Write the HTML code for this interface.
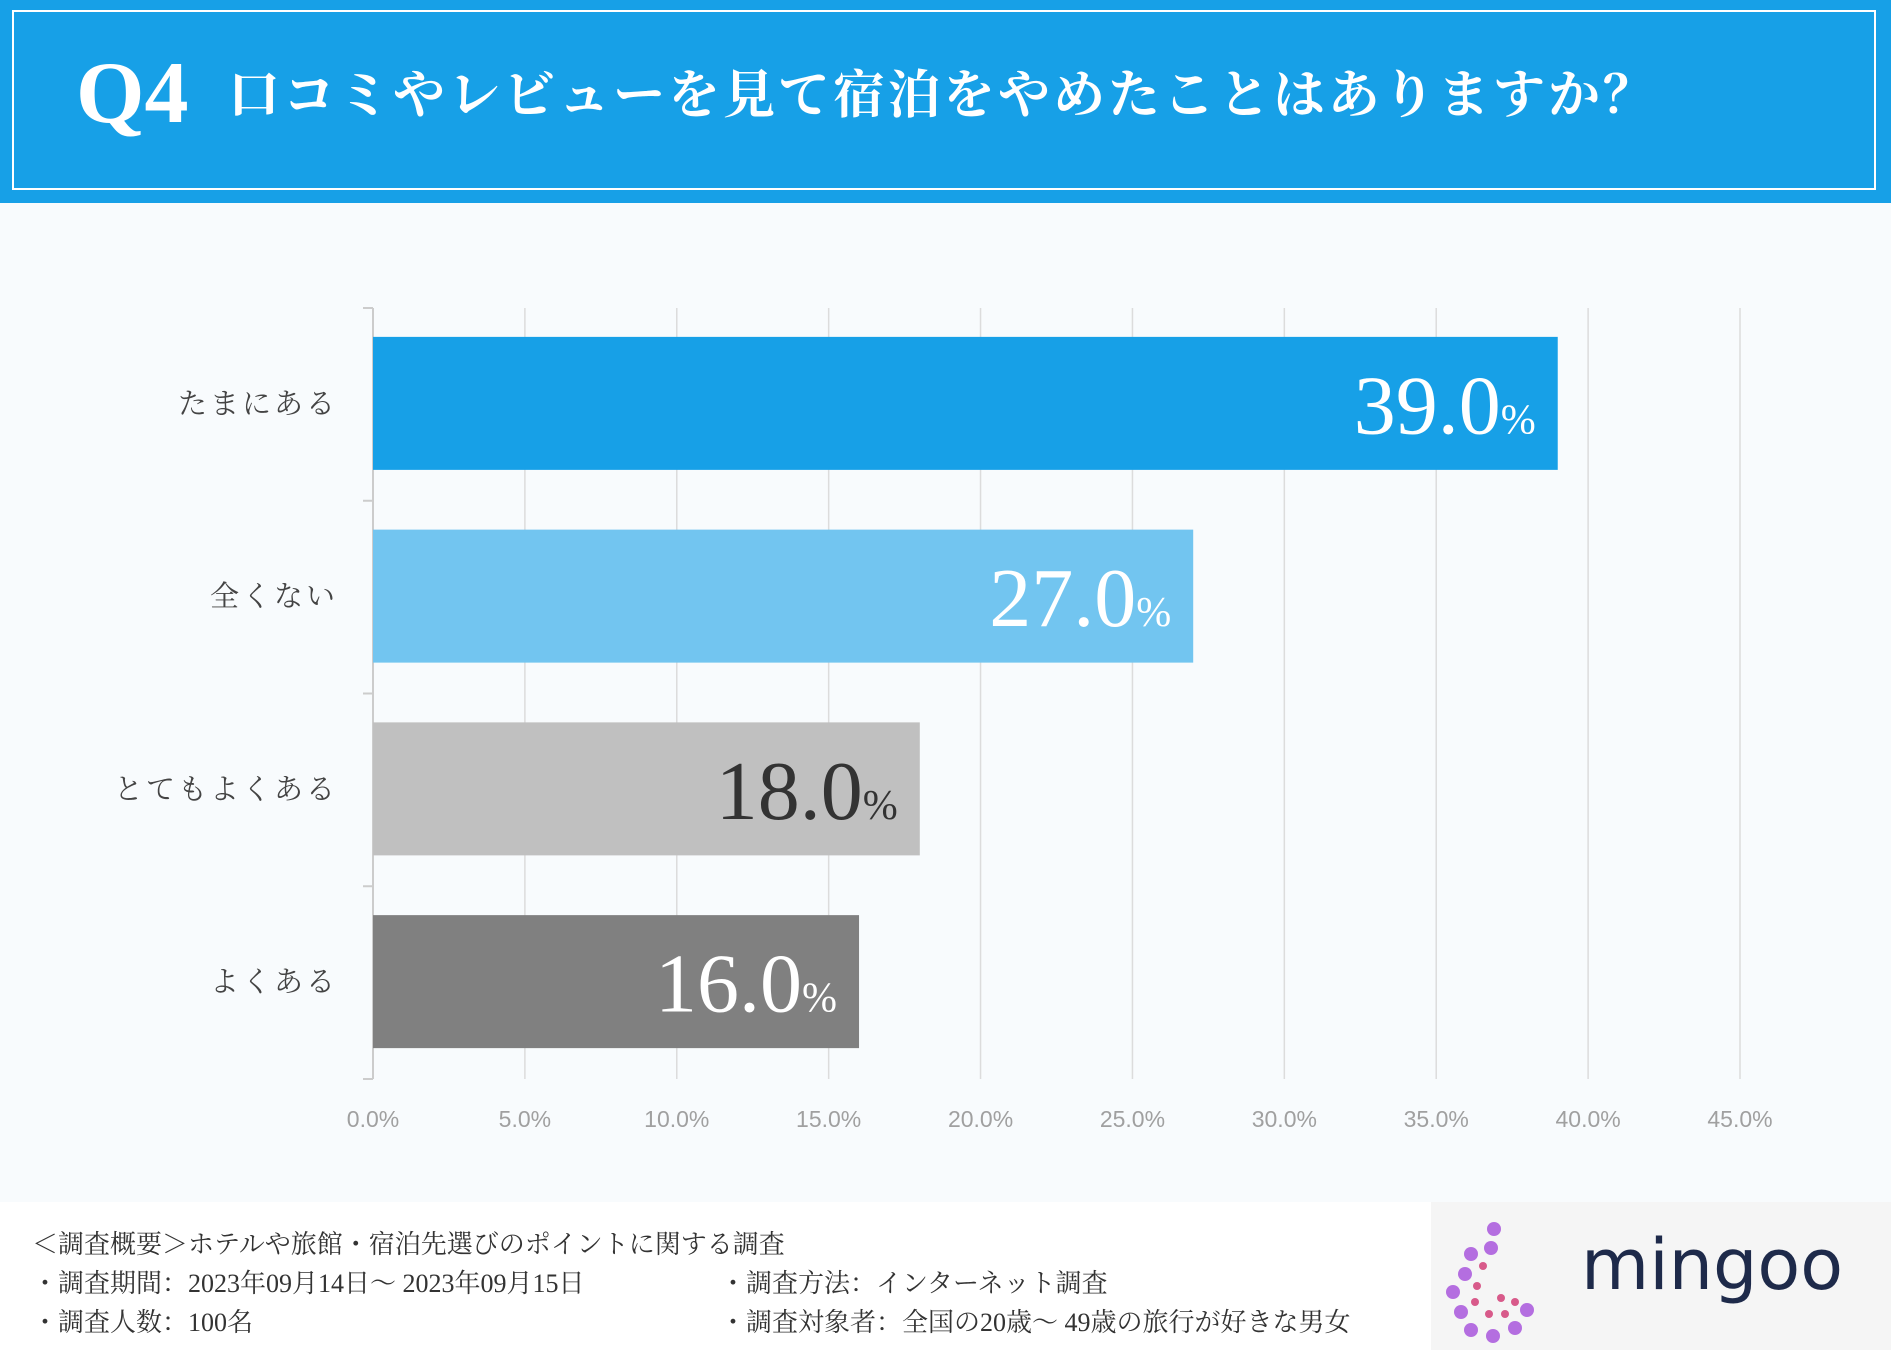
<!DOCTYPE html>
<html><head><meta charset="utf-8">
<style>
html,body{margin:0;padding:0}
body{width:1891px;height:1350px;background:#f8fbfd;position:relative;overflow:hidden;font-family:"Liberation Serif","Noto Serif CJK SC",serif}
.hdr{position:absolute;left:0;top:0;width:1891px;height:203px;background:#17a0e7}
.hdr .box{position:absolute;left:12px;top:10px;width:1864px;height:180px;border:2px solid #fff;box-sizing:border-box}
.q{position:absolute;left:76px;top:50px;color:#fff;font-family:"Liberation Serif",serif;font-size:88px;font-weight:bold;line-height:1}
.t{position:absolute;left:228px;top:68px;color:#fff;font-family:"Liberation Serif","Noto Serif CJK SC",serif;font-weight:bold;font-size:52px;letter-spacing:3px;line-height:1.1;white-space:nowrap}
.ftr{position:absolute;left:0;top:1202px;width:1891px;height:148px;background:#fff}
.ftr div{position:absolute;font-family:"Liberation Serif","Noto Serif CJK SC",serif;font-size:26px;color:#333;white-space:nowrap}
.logo{position:absolute;left:1431px;top:1202px;width:460px;height:148px;background:#f5f5f5}
</style></head><body>
<div class="hdr">
<div class="box"></div>
<div class="q">Q4</div>
<div class="t">口コミやレビューを見て宿泊をやめたことはありますか？</div>
</div>
<svg id="chart" width="1891" height="1202" style="position:absolute;left:0;top:0"></svg>
<div class="ftr">
<div style="left:32px;top:22px">＜調査概要＞ホテルや旅館・宿泊先選びのポイントに関する調査</div>
<div style="left:32px;top:61px">・調査期間：2023年09月14日～ 2023年09月15日</div>
<div style="left:32px;top:100px">・調査人数：100名</div>
<div style="left:720px;top:61px">・調査方法：インターネット調査</div>
<div style="left:720px;top:100px">・調査対象者：全国の20歳～ 49歳の旅行が好きな男女</div>
</div>
<div class="logo">
<svg width="120" height="148" style="position:absolute;left:0;top:0">
<g fill="#b46ee0"><circle cx="63" cy="27" r="7"/><circle cx="60" cy="46" r="7"/><circle cx="40" cy="52" r="7"/><circle cx="34" cy="72" r="7"/><circle cx="22" cy="90" r="7"/><circle cx="30" cy="110" r="7"/><circle cx="40" cy="128" r="7"/><circle cx="62" cy="134" r="7"/><circle cx="84" cy="126" r="7"/><circle cx="96" cy="108" r="7"/></g>
<g fill="#d85a8a"><circle cx="52" cy="64" r="4"/><circle cx="46" cy="84" r="4"/><circle cx="44" cy="100" r="4"/><circle cx="58" cy="112" r="4"/><circle cx="74" cy="112" r="4"/><circle cx="84" cy="100" r="4"/><circle cx="70" cy="96" r="4"/></g>
</svg>
<div style="position:absolute;left:150px;top:22px;font-family:'DejaVu Sans',sans-serif;font-size:70px;color:#1e2a4a">mingoo</div>
</div>
<script>
const categories=["たまにある","全くない","とてもよくある","よくある"];
const values=[39.0,27.0,18.0,16.0];
const ticks=[0,5,10,15,20,25,30,35,40,45];
const colors=["#17a0e7","#72c5f0","#c0c0c0","#808080"];
const labelColors=["#fff","#fff","#333","#fff"];
const svg=document.getElementById('chart');
const NS="http://www.w3.org/2000/svg";
const x0=373,x1=1740,tMax=45,yTop=308,yBot=1079;
const xs=v=>x0+(x1-x0)*v/tMax;
const band=(yBot-yTop)/categories.length;
function mk(t,a){const e=document.createElementNS(NS,t);for(const k in a)e.setAttribute(k,a[k]);svg.appendChild(e);return e;}
ticks.forEach(t=>{
 const g=mk('line',{x1:xs(t),x2:xs(t),y1:yTop,y2:yBot,stroke:'#dcdcdc','stroke-width':1.5});
 
 
 const l=mk('text',{x:xs(t),y:1127,'text-anchor':'middle','font-family':'Liberation Sans,sans-serif','font-size':23,fill:'#a0a0a0'});
 l.textContent=t.toFixed(1)+'%';
 
 
});
const ax=mk('line',{x1:x0,x2:x0,y1:yTop,y2:yBot,stroke:'#ccc','stroke-width':2});


for(let i=0;i<=categories.length;i++){
 const tk=mk('line',{x1:x0-10,x2:x0,y1:yTop+i*band,y2:yTop+i*band,stroke:'#ccc','stroke-width':2});
 
 
}
categories.forEach((c,i)=>{
 const yc=yTop+band*(i+0.5)-1;
 const bh=133;
 const r=mk('rect',{x:x0,y:yc-bh/2,width:xs(values[i])-x0,height:bh,fill:colors[i]});
 
 
 const cl=mk('text',{x:338,y:yc+10,'text-anchor':'end','font-family':'Liberation Serif,Noto Serif CJK SC,serif','font-size':29,fill:'#444','letter-spacing':3});
 cl.textContent=c;
 
 
 const vl=mk('text',{x:xs(values[i])-22,y:yc+30,'text-anchor':'end','font-family':'Liberation Serif,serif','font-size':84,fill:labelColors[i]});
 vl.textContent=values[i].toFixed(1);
 const ts=document.createElementNS(NS,'tspan');ts.setAttribute('font-size',42);ts.textContent='%';vl.appendChild(ts);
 
 
});
</script>
</body></html>
